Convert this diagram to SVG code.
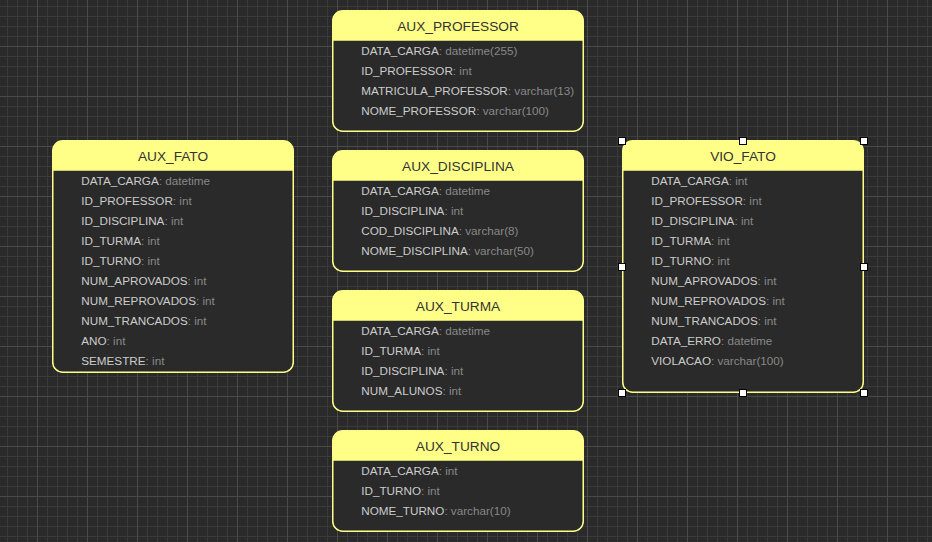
<svg xmlns="http://www.w3.org/2000/svg" width="932" height="542" viewBox="0 0 932 542">
  <defs>
    <pattern id="minor" patternUnits="userSpaceOnUse" x="7" y="6" width="10" height="10">
      <path d="M0.5 0V10M0 0.5H10" stroke="#3a3a3a" stroke-width="1" fill="none"/>
    </pattern>
    <pattern id="major" patternUnits="userSpaceOnUse" x="37" y="46" width="50" height="50">
      <path d="M0.5 0V50M0 0.5H50" stroke="#4a4a4a" stroke-width="1" fill="none"/>
    </pattern>
  </defs>
  <style>
    .body { fill: #2a2a2a; stroke: none; }
    .head { fill: #ffff88; stroke: none; }
    .outline { fill: none; stroke: #ffff88; stroke-width: 1.5; }
    .title { font-family: "Liberation Sans", Arial, sans-serif; font-size: 13.7px; fill: #333333; text-anchor: middle; }
    .row { font-family: "Liberation Sans", Arial, sans-serif; font-size: 11.7px; fill: #cccccc; }
    .type { fill: #888888; }
    .handle { fill: #ffffff; stroke: #000000; stroke-width: 1; }
  </style>
  <rect width="932" height="542" fill="#2a2a2a"/>
  <rect width="932" height="542" fill="url(#minor)"/>
  <rect width="932" height="542" fill="url(#major)"/>

  <g id="connectors"></g>

  <g id="AUX_PROFESSOR" transform="translate(332.75,10.75)">
    <rect class="body" width="250.5" height="120.5" rx="10"/>
    <path class="head" d="M0 30V10A10 10 0 0 1 10 0H240.5A10 10 0 0 1 250.5 10V30Z"/>
    <rect class="outline" width="250.5" height="120.5" rx="10"/>
    <text class="title" x="125.25" y="20">AUX_PROFESSOR</text>
    <text class="row" x="28.5" y="44.5">DATA_CARGA<tspan class="type">: datetime(255)</tspan></text>
    <text class="row" x="28.5" y="64.5">ID_PROFESSOR<tspan class="type">: int</tspan></text>
    <text class="row" x="28.5" y="84.5">MATRICULA_PROFESSOR<tspan class="type">: varchar(13)</tspan></text>
    <text class="row" x="28.5" y="104.5">NOME_PROFESSOR<tspan class="type">: varchar(100)</tspan></text>
  </g>

  <g id="AUX_DISCIPLINA" transform="translate(332.75,150.75)">
    <rect class="body" width="250.5" height="120.5" rx="10"/>
    <path class="head" d="M0 30V10A10 10 0 0 1 10 0H240.5A10 10 0 0 1 250.5 10V30Z"/>
    <rect class="outline" width="250.5" height="120.5" rx="10"/>
    <text class="title" x="125.25" y="20">AUX_DISCIPLINA</text>
    <text class="row" x="28.5" y="44.5">DATA_CARGA<tspan class="type">: datetime</tspan></text>
    <text class="row" x="28.5" y="64.5">ID_DISCIPLINA<tspan class="type">: int</tspan></text>
    <text class="row" x="28.5" y="84.5">COD_DISCIPLINA<tspan class="type">: varchar(8)</tspan></text>
    <text class="row" x="28.5" y="104.5">NOME_DISCIPLINA<tspan class="type">: varchar(50)</tspan></text>
  </g>

  <g id="AUX_TURMA" transform="translate(332.75,290.75)">
    <rect class="body" width="250.5" height="120.5" rx="10"/>
    <path class="head" d="M0 30V10A10 10 0 0 1 10 0H240.5A10 10 0 0 1 250.5 10V30Z"/>
    <rect class="outline" width="250.5" height="120.5" rx="10"/>
    <text class="title" x="125.25" y="20">AUX_TURMA</text>
    <text class="row" x="28.5" y="44.5">DATA_CARGA<tspan class="type">: datetime</tspan></text>
    <text class="row" x="28.5" y="64.5">ID_TURMA<tspan class="type">: int</tspan></text>
    <text class="row" x="28.5" y="84.5">ID_DISCIPLINA<tspan class="type">: int</tspan></text>
    <text class="row" x="28.5" y="104.5">NUM_ALUNOS<tspan class="type">: int</tspan></text>
  </g>

  <g id="AUX_TURNO" transform="translate(332.75,430.75)">
    <rect class="body" width="250.5" height="100.5" rx="10"/>
    <path class="head" d="M0 30V10A10 10 0 0 1 10 0H240.5A10 10 0 0 1 250.5 10V30Z"/>
    <rect class="outline" width="250.5" height="100.5" rx="10"/>
    <text class="title" x="125.25" y="20">AUX_TURNO</text>
    <text class="row" x="28.5" y="44.5">DATA_CARGA<tspan class="type">: int</tspan></text>
    <text class="row" x="28.5" y="64.5">ID_TURNO<tspan class="type">: int</tspan></text>
    <text class="row" x="28.5" y="84.5">NOME_TURNO<tspan class="type">: varchar(10)</tspan></text>
  </g>

  <g id="AUX_FATO" transform="translate(52.75,140.75)">
    <rect class="body" width="240.5" height="231.5" rx="10"/>
    <path class="head" d="M0 30V10A10 10 0 0 1 10 0H230.5A10 10 0 0 1 240.5 10V30Z"/>
    <rect class="outline" width="240.5" height="231.5" rx="10"/>
    <text class="title" x="120.25" y="20">AUX_FATO</text>
    <text class="row" x="28.5" y="44.5">DATA_CARGA<tspan class="type">: datetime</tspan></text>
    <text class="row" x="28.5" y="64.5">ID_PROFESSOR<tspan class="type">: int</tspan></text>
    <text class="row" x="28.5" y="84.5">ID_DISCIPLINA<tspan class="type">: int</tspan></text>
    <text class="row" x="28.5" y="104.5">ID_TURMA<tspan class="type">: int</tspan></text>
    <text class="row" x="28.5" y="124.5">ID_TURNO<tspan class="type">: int</tspan></text>
    <text class="row" x="28.5" y="144.5">NUM_APROVADOS<tspan class="type">: int</tspan></text>
    <text class="row" x="28.5" y="164.5">NUM_REPROVADOS<tspan class="type">: int</tspan></text>
    <text class="row" x="28.5" y="184.5">NUM_TRANCADOS<tspan class="type">: int</tspan></text>
    <text class="row" x="28.5" y="204.5">ANO<tspan class="type">: int</tspan></text>
    <text class="row" x="28.5" y="224.5">SEMESTRE<tspan class="type">: int</tspan></text>
  </g>

  <g id="VIO_FATO" transform="translate(622.75,140.75)">
    <rect class="body" width="240.5" height="251.5" rx="10"/>
    <path class="head" d="M0 30V10A10 10 0 0 1 10 0H230.5A10 10 0 0 1 240.5 10V30Z"/>
    <rect class="outline" width="240.5" height="251.5" rx="10"/>
    <text class="title" x="120.25" y="20">VIO_FATO</text>
    <text class="row" x="28.5" y="44.5">DATA_CARGA<tspan class="type">: int</tspan></text>
    <text class="row" x="28.5" y="64.5">ID_PROFESSOR<tspan class="type">: int</tspan></text>
    <text class="row" x="28.5" y="84.5">ID_DISCIPLINA<tspan class="type">: int</tspan></text>
    <text class="row" x="28.5" y="104.5">ID_TURMA<tspan class="type">: int</tspan></text>
    <text class="row" x="28.5" y="124.5">ID_TURNO<tspan class="type">: int</tspan></text>
    <text class="row" x="28.5" y="144.5">NUM_APROVADOS<tspan class="type">: int</tspan></text>
    <text class="row" x="28.5" y="164.5">NUM_REPROVADOS<tspan class="type">: int</tspan></text>
    <text class="row" x="28.5" y="184.5">NUM_TRANCADOS<tspan class="type">: int</tspan></text>
    <text class="row" x="28.5" y="204.5">DATA_ERRO<tspan class="type">: datetime</tspan></text>
    <text class="row" x="28.5" y="224.5">VIOLACAO<tspan class="type">: varchar(100)</tspan></text>
  </g>

  <g id="selection">
    <rect class="handle" x="618.5" y="137.5" width="7" height="7"/>
    <rect class="handle" x="739.5" y="137.5" width="7" height="7"/>
    <rect class="handle" x="860.5" y="137.5" width="7" height="7"/>
    <rect class="handle" x="618.5" y="263.5" width="7" height="7"/>
    <rect class="handle" x="860.5" y="263.5" width="7" height="7"/>
    <rect class="handle" x="618.5" y="389.5" width="7" height="7"/>
    <rect class="handle" x="739.5" y="389.5" width="7" height="7"/>
    <rect class="handle" x="860.5" y="389.5" width="7" height="7"/>
  </g>
</svg>
